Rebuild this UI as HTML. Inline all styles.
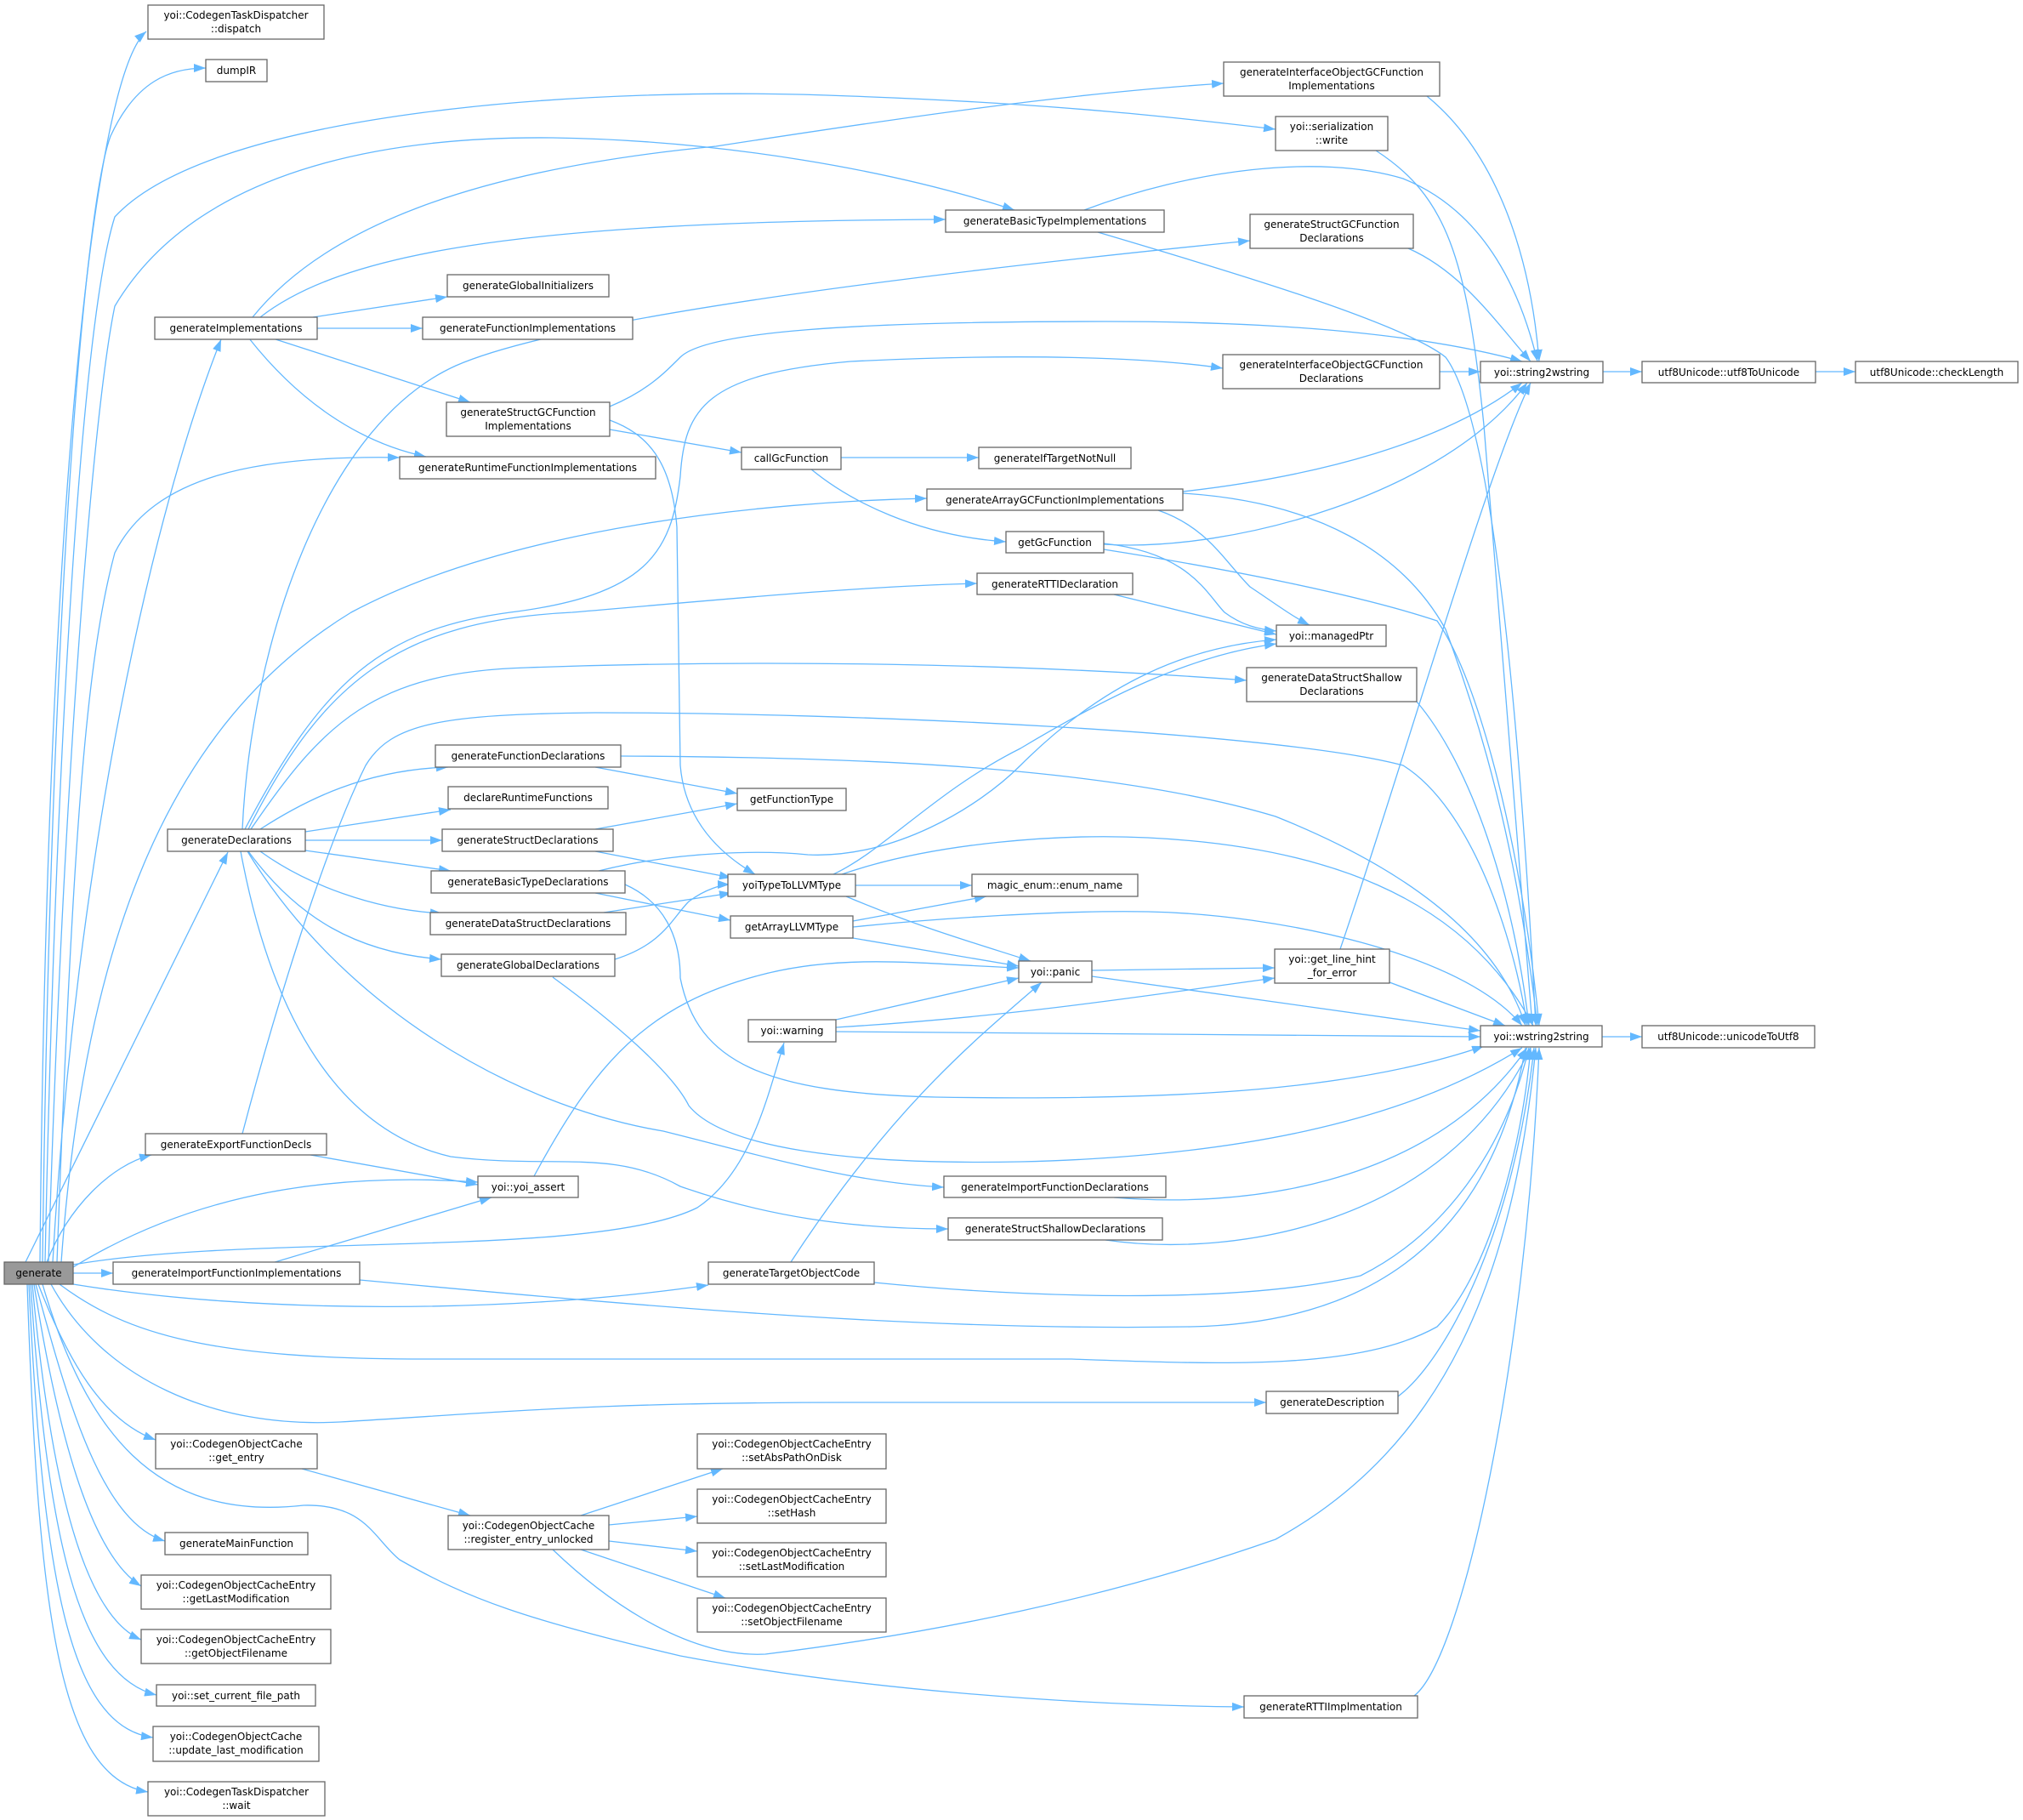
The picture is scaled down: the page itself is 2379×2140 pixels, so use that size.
<!DOCTYPE html>
<html><head><meta charset="utf-8"><style>
html,body{margin:0;padding:0;background:#fff;}
svg{display:block;}
text{font-family:"DejaVu Sans","Liberation Sans",sans-serif;font-size:12px;fill:#000;}
.n{fill:#fff;stroke:#666;stroke-width:1.3;}
.e{fill:none;stroke:#63b8ff;stroke-width:1.3;}
</style></head><body>
<svg width="2379" height="2140" viewBox="0 0 2379 2140" xmlns="http://www.w3.org/2000/svg">
<defs><marker id="a" markerUnits="userSpaceOnUse" markerWidth="14" markerHeight="10" refX="14" refY="5" orient="auto"><path d="M0,0 L14,5 L0,10 z" fill="#63b8ff"/></marker></defs>
<g class="e" marker-end="url(#a)">
<!-- generate -->
<path d="M47,1484 C55,600 110,90 172,37"/>
<path d="M50,1484 C60,700 100,240 130,160 C160,95 200,80 242,80"/>
<path d="M53,1484 C65,900 95,380 135,255 C250,130 700,100 1000,113 C1250,122 1400,140 1500,152"/>
<path d="M57,1484 C75,900 110,480 135,360 C230,200 450,160 650,162 C850,165 1050,200 1193,247"/>
<path d="M62,1484 C90,1000 180,600 260,399"/>
<path d="M67,1484 C85,1000 100,780 135,650 C180,560 300,535 470,538"/>
<path d="M72,1484 C100,1100 200,850 413,720 C600,620 900,590 1090,586"/>
<path d="M30,1484 L268,1002"/>
<path d="M55,1484 C80,1420 130,1370 178,1358"/>
<path d="M86,1490 C200,1420 350,1375 562,1390"/>
<path d="M86,1487 C300,1450 700,1480 820,1420 C880,1380 900,1300 922,1226"/>
<path d="M86,1497 L133,1497"/>
<path d="M86,1510 C300,1545 600,1545 833,1511"/>
<path d="M70,1510 C150,1570 250,1598 500,1598 L1260,1598 C1450,1605 1600,1610 1690,1560 C1750,1500 1790,1350 1800,1232"/>
<path d="M60,1510 C120,1620 250,1680 400,1672 C600,1660 700,1649 1000,1649 L1489,1649"/>
<path d="M45,1510 C80,1600 120,1670 183,1693"/>
<path d="M42,1510 C80,1650 120,1790 194,1812"/>
<path d="M40,1510 C70,1700 110,1830 166,1865"/>
<path d="M38,1510 C60,1750 100,1900 166,1928"/>
<path d="M36,1510 C55,1800 90,1970 184,1993"/>
<path d="M34,1510 C50,1850 80,2030 180,2043"/>
<path d="M32,1510 C45,1900 70,2090 174,2107"/>
<path d="M50,1510 C100,1680 180,1790 357,1770 C430,1768 440,1810 470,1834 C550,1880 620,1905 800,1947 C1000,1985 1250,2005 1463,2007"/>
<!-- generateImplementations -->
<path d="M297,373 C380,270 550,200 842,172 C1050,140 1250,110 1439,98"/>
<path d="M306,373 C400,300 600,260 1112,258"/>
<path d="M368,373 L526,349"/>
<path d="M373,386 L497,386"/>
<path d="M321,398 L553,473"/>
<path d="M293,398 C350,470 420,520 501,537"/>
<!-- SGFI -->
<path d="M717,478 C760,460 780,440 800,420 C830,390 1000,378 1300,378 C1550,378 1700,400 1790,425"/>
<path d="M717,505 L872,532"/>
<path d="M717,494 C760,510 790,540 796,620 L800,900 C805,960 840,1000 888,1028"/>
<path d="M989,538 L1151,538"/>
<path d="M953,551 C1000,590 1080,630 1183,637"/>
<!-- right top group -->
<path d="M1275,247 C1400,200 1550,180 1650,210 C1750,250 1790,350 1808,425"/>
<path d="M1291,273 C1450,320 1650,380 1700,420 C1760,500 1790,900 1806,1206"/>
<path d="M1678,113 C1760,180 1800,300 1810,425"/>
<path d="M1618,177 C1700,230 1725,300 1745,500 L1802,1206"/>
<path d="M1656,292 C1720,320 1760,380 1800,425"/>
<path d="M1693,437 L1741,437"/>
<path d="M1885,437 L1931,437"/>
<path d="M2135,437 L2182,437"/>
<path d="M1391,578 C1550,560 1700,520 1790,450"/>
<path d="M1362,600 C1420,620 1440,660 1470,690 C1500,710 1520,725 1540,735"/>
<path d="M1391,580 C1550,590 1650,650 1700,740 C1760,900 1790,1050 1808,1206"/>
<path d="M1298,640 C1450,650 1700,580 1796,450"/>
<path d="M1298,639 C1400,650 1420,700 1440,720 C1460,735 1480,740 1501,742"/>
<path d="M1298,646 C1450,670 1600,700 1690,730 C1740,800 1790,1000 1810,1206"/>
<path d="M1310,699 L1501,746"/>
<path d="M1666,825 C1730,900 1780,1050 1798,1206"/>
<!-- generateDeclarations -->
<path d="M285,975 C295,760 380,500 536,430 C650,380 1000,330 1470,283"/>
<path d="M288,975 C380,800 450,740 600,720 C760,700 790,650 800,560 C805,480 830,440 1000,425 C1200,415 1350,420 1438,433"/>
<path d="M292,975 C380,800 470,730 673,720 C850,705 1000,690 1149,686"/>
<path d="M295,975 C380,850 440,790 620,785 C900,775 1200,780 1466,800"/>
<path d="M306,975 C360,940 430,905 527,902"/>
<path d="M359,978 L530,952"/>
<path d="M359,988 L520,988"/>
<path d="M359,1000 L530,1024"/>
<path d="M306,1001 C360,1040 440,1070 520,1074"/>
<path d="M292,1001 C350,1080 420,1120 519,1128"/>
<path d="M291,1001 C400,1180 600,1300 780,1330 C900,1360 1000,1390 1110,1396"/>
<path d="M283,1001 C320,1200 400,1330 530,1360 C650,1375 720,1350 800,1395 C900,1430 1000,1445 1115,1445"/>
<!-- mid -->
<path d="M285,1333 C320,1200 380,1000 430,900 C460,850 520,840 700,838 C1000,838 1500,860 1650,900 C1730,950 1780,1100 1796,1206"/>
<path d="M365,1358 L562,1393"/>
<path d="M628,1383 C700,1250 760,1180 900,1145 C1000,1120 1100,1135 1198,1138"/>
<path d="M700,902 L867,933"/>
<path d="M730,889 C1000,890 1300,900 1500,960 C1650,1020 1760,1100 1794,1206"/>
<path d="M700,975 L867,945"/>
<path d="M700,1001 L860,1032"/>
<path d="M700,1050 L859,1082"/>
<path d="M710,1073 L860,1050"/>
<path d="M704,1024 C800,1000 900,1000 950,1005 C1050,1010 1150,950 1200,900 C1300,800 1400,760 1501,752"/>
<path d="M735,1040 C780,1060 800,1100 800,1150 C820,1250 900,1285 1100,1290 C1400,1295 1600,1280 1745,1230"/>
<path d="M723,1128 C780,1110 790,1080 810,1060 C830,1045 850,1040 858,1040"/>
<path d="M650,1149 C720,1200 790,1260 810,1300 C850,1350 1000,1370 1200,1366 C1450,1360 1650,1320 1790,1232"/>
<path d="M1310,1408 C1450,1420 1680,1400 1796,1232"/>
<path d="M1300,1458 C1450,1480 1700,1440 1800,1232"/>
<path d="M1644,1642 C1700,1600 1780,1450 1804,1232"/>
<path d="M1663,1994 C1720,1950 1795,1600 1810,1232"/>
<path d="M650,1822 C700,1870 800,1950 900,1945 C1100,1920 1300,1880 1500,1810 C1700,1700 1780,1500 1806,1232"/>
<path d="M423,1505 C800,1540 1100,1565 1400,1560 C1650,1555 1760,1420 1794,1232"/>
<path d="M1028,1508 C1200,1525 1450,1535 1600,1500 C1700,1450 1770,1350 1798,1232"/>
<path d="M930,1484 C1050,1300 1150,1220 1225,1155"/>
<path d="M355,1727 L553,1782"/>
<path d="M683,1782 L850,1727"/>
<path d="M716,1793 L820,1783"/>
<path d="M716,1812 L820,1824"/>
<path d="M683,1822 L853,1879"/>
<path d="M320,1485 L578,1408"/>
<!-- yoiTypeToLLVMType etc -->
<path d="M1006,1041 L1143,1041"/>
<path d="M980,1028 C1040,1000 1100,930 1200,880 C1300,820 1400,770 1501,757"/>
<path d="M990,1028 C1100,990 1250,980 1350,985 C1550,995 1720,1050 1803,1206"/>
<path d="M995,1054 C1080,1090 1150,1110 1212,1130"/>
<path d="M1003,1083 L1160,1054"/>
<path d="M1003,1090 C1100,1080 1250,1070 1350,1072 C1500,1075 1720,1120 1790,1206"/>
<path d="M1003,1103 L1198,1136"/>
<path d="M983,1199 L1198,1150"/>
<path d="M983,1208 C1200,1195 1350,1170 1499,1150"/>
<path d="M983,1213 L1741,1219"/>
<path d="M1284,1141 L1499,1138"/>
<path d="M1284,1148 L1741,1212"/>
<path d="M1576,1116 C1650,900 1750,550 1800,450"/>
<path d="M1634,1155 L1770,1206"/>
<path d="M1884,1219 L1931,1219"/>
</g>
<g>
<rect x="5" y="1484" width="81" height="26" fill="#999" stroke="#666" stroke-width="1.3"/><text x="45.5" y="1501" text-anchor="middle">generate</text>
<rect class="n" x="174" y="6" width="207" height="40"/><text x="277.5" y="22" text-anchor="middle">yoi::CodegenTaskDispatcher</text><text x="277.5" y="38" text-anchor="middle">::dispatch</text>
<rect class="n" x="242" y="70" width="72" height="26"/><text x="278" y="87" text-anchor="middle">dumpIR</text>
<rect class="n" x="182" y="373" width="191" height="26"/><text x="277.5" y="390" text-anchor="middle">generateImplementations</text>
<rect class="n" x="526" y="323" width="190" height="26"/><text x="621" y="340" text-anchor="middle">generateGlobalInitializers</text>
<rect class="n" x="497" y="373" width="247" height="26"/><text x="620.5" y="390" text-anchor="middle">generateFunctionImplementations</text>
<rect class="n" x="525" y="473" width="192" height="40"/><text x="621" y="489" text-anchor="middle">generateStructGCFunction</text><text x="621" y="505" text-anchor="middle">Implementations</text>
<rect class="n" x="470" y="537" width="301" height="26"/><text x="620.5" y="554" text-anchor="middle">generateRuntimeFunctionImplementations</text>
<rect class="n" x="872" y="526" width="117" height="26"/><text x="930.5" y="543" text-anchor="middle">callGcFunction</text>
<rect class="n" x="1112" y="247" width="257" height="26"/><text x="1240.5" y="264" text-anchor="middle">generateBasicTypeImplementations</text>
<rect class="n" x="1470" y="252" width="192" height="40"/><text x="1566" y="268" text-anchor="middle">generateStructGCFunction</text><text x="1566" y="284" text-anchor="middle">Declarations</text>
<rect class="n" x="1438" y="417" width="255" height="40"/><text x="1565.5" y="433" text-anchor="middle">generateInterfaceObjectGCFunction</text><text x="1565.5" y="449" text-anchor="middle">Declarations</text>
<rect class="n" x="1151" y="526" width="179" height="25"/><text x="1240.5" y="543" text-anchor="middle">generateIfTargetNotNull</text>
<rect class="n" x="1090" y="575" width="301" height="25"/><text x="1240.5" y="592" text-anchor="middle">generateArrayGCFunctionImplementations</text>
<rect class="n" x="1183" y="625" width="115" height="25"/><text x="1240.5" y="642" text-anchor="middle">getGcFunction</text>
<rect class="n" x="1149" y="674" width="183" height="25"/><text x="1240.5" y="691" text-anchor="middle">generateRTTIDeclaration</text>
<rect class="n" x="1501" y="735" width="129" height="25"/><text x="1565.5" y="752" text-anchor="middle">yoi::managedPtr</text>
<rect class="n" x="1466" y="785" width="200" height="40"/><text x="1566" y="801" text-anchor="middle">generateDataStructShallow</text><text x="1566" y="817" text-anchor="middle">Declarations</text>
<rect class="n" x="1439" y="73" width="254" height="40"/><text x="1566" y="89" text-anchor="middle">generateInterfaceObjectGCFunction</text><text x="1566" y="105" text-anchor="middle">Implementations</text>
<rect class="n" x="1500" y="137" width="132" height="40"/><text x="1566" y="153" text-anchor="middle">yoi::serialization</text><text x="1566" y="169" text-anchor="middle">::write</text>
<rect class="n" x="1741" y="425" width="144" height="25"/><text x="1813" y="442" text-anchor="middle">yoi::string2wstring</text>
<rect class="n" x="1931" y="425" width="204" height="25"/><text x="2033" y="442" text-anchor="middle">utf8Unicode::utf8ToUnicode</text>
<rect class="n" x="2182" y="425" width="191" height="25"/><text x="2277.5" y="442" text-anchor="middle">utf8Unicode::checkLength</text>
<rect class="n" x="197" y="975" width="162" height="26"/><text x="278" y="992" text-anchor="middle">generateDeclarations</text>
<rect class="n" x="512" y="876" width="218" height="26"/><text x="621" y="893" text-anchor="middle">generateFunctionDeclarations</text>
<rect class="n" x="527" y="925" width="188" height="26"/><text x="621" y="942" text-anchor="middle">declareRuntimeFunctions</text>
<rect class="n" x="520" y="975" width="201" height="26"/><text x="620.5" y="992" text-anchor="middle">generateStructDeclarations</text>
<rect class="n" x="507" y="1024" width="228" height="26"/><text x="621" y="1041" text-anchor="middle">generateBasicTypeDeclarations</text>
<rect class="n" x="506" y="1073" width="230" height="26"/><text x="621" y="1090" text-anchor="middle">generateDataStructDeclarations</text>
<rect class="n" x="519" y="1122" width="204" height="26"/><text x="621" y="1139" text-anchor="middle">generateGlobalDeclarations</text>
<rect class="n" x="867" y="927" width="128" height="26"/><text x="931" y="944" text-anchor="middle">getFunctionType</text>
<rect class="n" x="856" y="1028" width="150" height="26"/><text x="931" y="1045" text-anchor="middle">yoiTypeToLLVMType</text>
<rect class="n" x="859" y="1077" width="144" height="26"/><text x="931" y="1094" text-anchor="middle">getArrayLLVMType</text>
<rect class="n" x="880" y="1199" width="103" height="26"/><text x="931.5" y="1216" text-anchor="middle">yoi::warning</text>
<rect class="n" x="171" y="1333" width="213" height="25"/><text x="277.5" y="1350" text-anchor="middle">generateExportFunctionDecls</text>
<rect class="n" x="562" y="1383" width="118" height="25"/><text x="621" y="1400" text-anchor="middle">yoi::yoi_assert</text>
<rect class="n" x="1143" y="1028" width="195" height="26"/><text x="1240.5" y="1045" text-anchor="middle">magic_enum::enum_name</text>
<rect class="n" x="1198" y="1130" width="86" height="25"/><text x="1241" y="1147" text-anchor="middle">yoi::panic</text>
<rect class="n" x="1499" y="1116" width="135" height="40"/><text x="1566.5" y="1132" text-anchor="middle">yoi::get_line_hint</text><text x="1566.5" y="1148" text-anchor="middle">_for_error</text>
<rect class="n" x="1110" y="1383" width="261" height="25"/><text x="1240.5" y="1400" text-anchor="middle">generateImportFunctionDeclarations</text>
<rect class="n" x="1115" y="1432" width="252" height="26"/><text x="1241" y="1449" text-anchor="middle">generateStructShallowDeclarations</text>
<rect class="n" x="1741" y="1206" width="143" height="25"/><text x="1812.5" y="1223" text-anchor="middle">yoi::wstring2string</text>
<rect class="n" x="1931" y="1206" width="203" height="26"/><text x="2032.5" y="1223" text-anchor="middle">utf8Unicode::unicodeToUtf8</text>
<rect class="n" x="133" y="1484" width="290" height="26"/><text x="278" y="1501" text-anchor="middle">generateImportFunctionImplementations</text>
<rect class="n" x="183" y="1686" width="190" height="41"/><text x="278" y="1702" text-anchor="middle">yoi::CodegenObjectCache</text><text x="278" y="1718" text-anchor="middle">::get_entry</text>
<rect class="n" x="527" y="1782" width="189" height="40"/><text x="621.5" y="1798" text-anchor="middle">yoi::CodegenObjectCache</text><text x="621.5" y="1814" text-anchor="middle">::register_entry_unlocked</text>
<rect class="n" x="194" y="1802" width="168" height="26"/><text x="278" y="1819" text-anchor="middle">generateMainFunction</text>
<rect class="n" x="166" y="1852" width="223" height="40"/><text x="277.5" y="1868" text-anchor="middle">yoi::CodegenObjectCacheEntry</text><text x="277.5" y="1884" text-anchor="middle">::getLastModification</text>
<rect class="n" x="166" y="1916" width="223" height="40"/><text x="277.5" y="1932" text-anchor="middle">yoi::CodegenObjectCacheEntry</text><text x="277.5" y="1948" text-anchor="middle">::getObjectFilename</text>
<rect class="n" x="184" y="1981" width="187" height="25"/><text x="277.5" y="1998" text-anchor="middle">yoi::set_current_file_path</text>
<rect class="n" x="180" y="2030" width="195" height="41"/><text x="277.5" y="2046" text-anchor="middle">yoi::CodegenObjectCache</text><text x="277.5" y="2062" text-anchor="middle">::update_last_modification</text>
<rect class="n" x="174" y="2095" width="208" height="40"/><text x="278" y="2111" text-anchor="middle">yoi::CodegenTaskDispatcher</text><text x="278" y="2127" text-anchor="middle">::wait</text>
<rect class="n" x="833" y="1484" width="195" height="26"/><text x="930.5" y="1501" text-anchor="middle">generateTargetObjectCode</text>
<rect class="n" x="1489" y="1636" width="155" height="26"/><text x="1566.5" y="1653" text-anchor="middle">generateDescription</text>
<rect class="n" x="820" y="1686" width="222" height="41"/><text x="931" y="1702" text-anchor="middle">yoi::CodegenObjectCacheEntry</text><text x="931" y="1718" text-anchor="middle">::setAbsPathOnDisk</text>
<rect class="n" x="820" y="1751" width="222" height="40"/><text x="931" y="1767" text-anchor="middle">yoi::CodegenObjectCacheEntry</text><text x="931" y="1783" text-anchor="middle">::setHash</text>
<rect class="n" x="820" y="1814" width="222" height="40"/><text x="931" y="1830" text-anchor="middle">yoi::CodegenObjectCacheEntry</text><text x="931" y="1846" text-anchor="middle">::setLastModification</text>
<rect class="n" x="820" y="1879" width="222" height="40"/><text x="931" y="1895" text-anchor="middle">yoi::CodegenObjectCacheEntry</text><text x="931" y="1911" text-anchor="middle">::setObjectFilename</text>
<rect class="n" x="1463" y="1994" width="204" height="26"/><text x="1565" y="2011" text-anchor="middle">generateRTTIImplmentation</text>
</g>
</svg>
</body></html>
